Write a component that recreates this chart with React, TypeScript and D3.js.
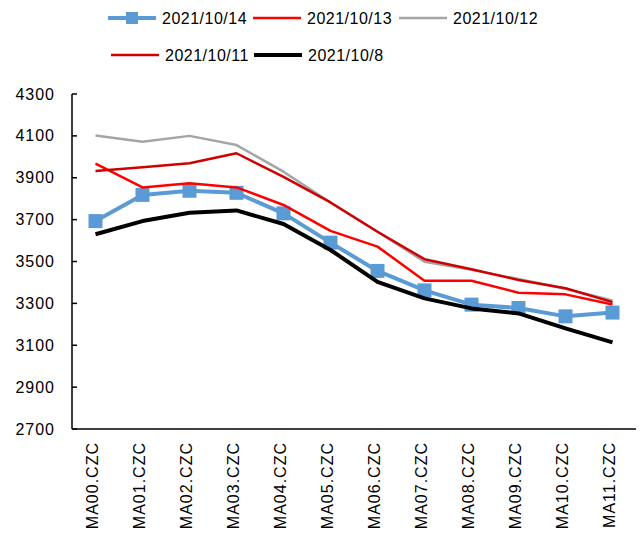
import React from "react";
import * as d3 from "d3";

const categories = ["MA00.CZC","MA01.CZC","MA02.CZC","MA03.CZC","MA04.CZC","MA05.CZC","MA06.CZC","MA07.CZC","MA08.CZC","MA09.CZC","MA10.CZC","MA11.CZC"];
const s1014 = [3693, 3818, 3838, 3828, 3730, 3590, 3455, 3362, 3294, 3278, 3238, 3256];
const s1013 = [3967, 3854, 3874, 3854, 3770, 3646, 3571, 3408, 3408, 3351, 3343, 3295];
const s1012 = [4102, 4072, 4100, 4056, 3929, 3782, 3642, 3499, 3460, 3416, 3370, 3314];
const s1011 = [3932, 3950, 3969, 4017, 3904, 3782, 3642, 3511, 3463, 3412, 3372, 3306];
const s108 = [3630, 3693, 3733, 3744, 3679, 3555, 3403, 3324, 3276, 3252, 3181, 3114];
const yTicks = [2700, 2900, 3100, 3300, 3500, 3700, 3900, 4100, 4300];
const seriesNames = ["2021/10/14", "2021/10/13", "2021/10/12", "2021/10/11", "2021/10/8"];

const series = [
  { name: seriesNames[0], values: s1014, color: "#5B9BD5", width: 4, marker: true },
  { name: seriesNames[1], values: s1013, color: "#FF0000", width: 2.5, marker: false },
  { name: seriesNames[2], values: s1012, color: "#A5A5A5", width: 2.5, marker: false },
  { name: seriesNames[3], values: s1011, color: "#D00000", width: 2.5, marker: false },
  { name: seriesNames[4], values: s108, color: "#000000", width: 4, marker: false },
];

const legendPos = [
  { x: 108, y: 18 },
  { x: 253, y: 18 },
  { x: 399, y: 18 },
  { x: 111, y: 55 },
  { x: 254, y: 55 },
];

export default function App() {
  const W = 642, H = 536;
  const x0 = 72, x1 = 636, yTop = 94, yBot = 429;
  const x = d3.scaleBand().domain(categories).range([x0, x1]);
  const y = d3.scaleLinear().domain([2700, 4300]).range([yBot, yTop]);
  const cx = (c: string) => (x(c) as number) + x.bandwidth() / 2;
  const line = d3.line<number>().x((_, i) => cx(categories[i])).y((v) => y(v));
  const font = "'Liberation Sans', Arial, sans-serif";

  return (
    <svg width={W} height={H} style={{ position: "absolute", left: 0, top: 0, background: "#fff" }} fontFamily={font}>
      {/* y axis */}
      <line x1={x0} x2={x0} y1={yTop} y2={yBot} stroke="#000" strokeWidth={1.5} />
      <line x1={x0} x2={x1} y1={yBot} y2={yBot} stroke="#000" strokeWidth={1.5} />
      {yTicks.map((t) => (
        <g key={t}>
          <line x1={x0} x2={x0 + 5} y1={y(t)} y2={y(t)} stroke="#000" strokeWidth={1.5} />
          <text x={55} y={y(t)} dy="0.35em" textAnchor="end" fontSize={16} letterSpacing={1} fill="#000">{t}</text>
        </g>
      ))}
      {categories.map((c) => (
        <text key={c} transform={`translate(${cx(c) + 2.5},442) rotate(-90)`} textAnchor="end" fontSize={16} letterSpacing={1} fill="#000">{c}</text>
      ))}
      {series.map((s) => (
        <g key={s.name}>
          <path d={line(s.values) as string} fill="none" stroke={s.color} strokeWidth={s.width} strokeLinejoin="round" />
          {s.marker && s.values.map((v, i) => (
            <rect key={i} x={cx(categories[i]) - 7} y={y(v) - 7} width={14} height={14} fill={s.color} />
          ))}
        </g>
      ))}
      {series.map((s, k) => {
        const p = legendPos[k];
        return (
          <g key={"lg" + s.name}>
            <line x1={p.x} x2={p.x + 48} y1={p.y} y2={p.y} stroke={s.color} strokeWidth={s.width} />
            {s.marker && <rect x={p.x + 24 - 6} y={p.y - 6} width={12} height={12} fill={s.color} />}
            <text x={p.x + 54} y={p.y} dy="0.35em" fontSize={16} letterSpacing={0.5} fill="#000">{s.name}</text>
          </g>
        );
      })}
    </svg>
  );
}
